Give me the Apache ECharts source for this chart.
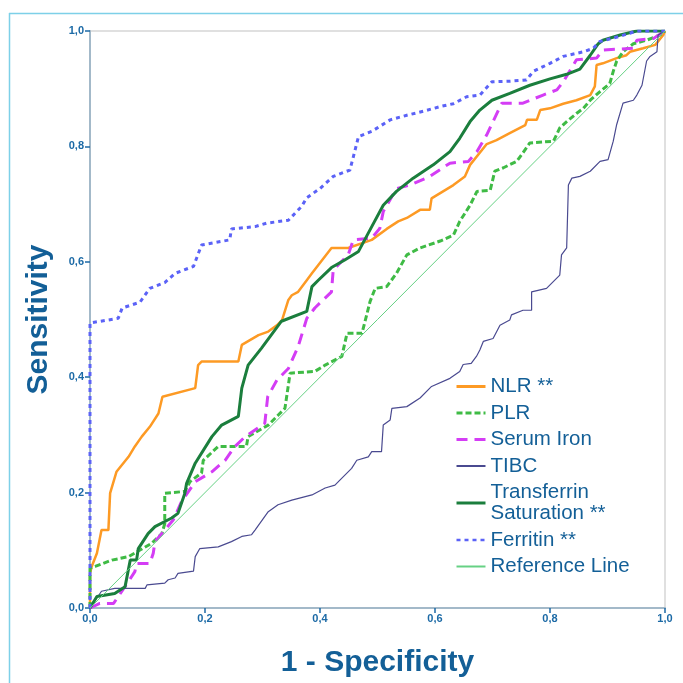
<!DOCTYPE html>
<html>
<head>
<meta charset="utf-8">
<script src="https://cdn.jsdelivr.net/npm/echarts@6/dist/echarts.min.js"></script>
<style>
  html, body { margin: 0; padding: 0; background: #fff; }
  #main { width: 683px; height: 683px; }
</style>
</head>
<body>
<div id="main"></div>
<script>
// ROC curves, [1 - specificity, sensitivity]
var nlr = [[0,0],[0,0.060],[0.003,0.072],[0.012,0.095],[0.020,0.135],[0.032,0.135],[0.035,0.199],[0.046,0.236],[0.067,0.262],[0.078,0.280],[0.090,0.297],[0.104,0.314],[0.119,0.337],[0.126,0.366],[0.183,0.381],[0.188,0.421],[0.194,0.427],[0.258,0.427],[0.264,0.456],[0.293,0.473],[0.310,0.479],[0.325,0.490],[0.334,0.499],[0.345,0.534],[0.351,0.542],[0.362,0.548],[0.377,0.568],[0.386,0.580],[0.420,0.624],[0.449,0.624],[0.490,0.638],[0.516,0.657],[0.536,0.670],[0.551,0.676],[0.574,0.690],[0.591,0.690],[0.594,0.710],[0.632,0.733],[0.652,0.748],[0.661,0.768],[0.690,0.804],[0.707,0.811],[0.730,0.823],[0.757,0.837],[0.760,0.846],[0.777,0.846],[0.783,0.863],[0.800,0.866],[0.823,0.874],[0.846,0.880],[0.870,0.889],[0.878,0.904],[0.881,0.941],[0.892,0.944],[0.916,0.953],[0.933,0.958],[0.939,0.964],[0.962,0.970],[0.983,0.976],[0.997,0.993],[1,1]];

var plr = [[0,0],[0,0.069],[0.009,0.072],[0.038,0.083],[0.067,0.089],[0.107,0.112],[0.125,0.129],[0.130,0.146],[0.130,0.199],[0.165,0.202],[0.174,0.219],[0.194,0.234],[0.197,0.256],[0.223,0.280],[0.272,0.280],[0.275,0.297],[0.310,0.317],[0.327,0.334],[0.339,0.346],[0.342,0.366],[0.348,0.407],[0.391,0.410],[0.409,0.421],[0.438,0.436],[0.447,0.476],[0.473,0.476],[0.482,0.511],[0.487,0.531],[0.496,0.554],[0.516,0.557],[0.533,0.580],[0.551,0.612],[0.574,0.624],[0.609,0.636],[0.632,0.646],[0.643,0.670],[0.661,0.698],[0.673,0.722],[0.696,0.724],[0.704,0.757],[0.719,0.763],[0.742,0.774],[0.753,0.789],[0.765,0.806],[0.806,0.809],[0.817,0.832],[0.829,0.843],[0.846,0.857],[0.858,0.866],[0.870,0.880],[0.887,0.895],[0.904,0.909],[0.910,0.930],[0.916,0.948],[0.927,0.964],[0.945,0.978],[0.968,0.984],[0.991,0.993],[1,1]];

var serumIron = [[0,0],[0.003,0.003],[0.017,0.008],[0.041,0.008],[0.067,0.046],[0.078,0.063],[0.081,0.077],[0.104,0.077],[0.110,0.095],[0.113,0.115],[0.130,0.135],[0.145,0.153],[0.159,0.184],[0.183,0.219],[0.212,0.236],[0.235,0.256],[0.252,0.280],[0.270,0.297],[0.304,0.320],[0.309,0.366],[0.325,0.395],[0.345,0.415],[0.362,0.453],[0.377,0.502],[0.391,0.520],[0.420,0.548],[0.423,0.586],[0.449,0.612],[0.458,0.638],[0.490,0.641],[0.504,0.658],[0.510,0.687],[0.533,0.727],[0.557,0.733],[0.591,0.748],[0.626,0.771],[0.658,0.774],[0.673,0.791],[0.690,0.820],[0.716,0.875],[0.753,0.875],[0.788,0.889],[0.812,0.898],[0.823,0.912],[0.846,0.950],[0.881,0.953],[0.892,0.967],[0.945,0.970],[0.951,0.984],[0.980,0.987],[1,1]];

var tibc = [[0,0],[0.020,0.029],[0.043,0.034],[0.096,0.034],[0.099,0.040],[0.130,0.043],[0.136,0.049],[0.148,0.052],[0.153,0.060],[0.180,0.064],[0.183,0.089],[0.191,0.103],[0.223,0.106],[0.246,0.115],[0.264,0.124],[0.281,0.127],[0.287,0.135],[0.310,0.167],[0.327,0.179],[0.351,0.187],[0.386,0.196],[0.409,0.208],[0.426,0.213],[0.435,0.222],[0.455,0.242],[0.464,0.256],[0.484,0.262],[0.490,0.271],[0.507,0.271],[0.510,0.317],[0.522,0.326],[0.525,0.346],[0.551,0.349],[0.574,0.364],[0.594,0.384],[0.626,0.398],[0.643,0.410],[0.649,0.422],[0.663,0.424],[0.672,0.436],[0.678,0.447],[0.684,0.462],[0.701,0.467],[0.713,0.490],[0.730,0.499],[0.733,0.508],[0.753,0.516],[0.768,0.516],[0.768,0.548],[0.794,0.554],[0.817,0.577],[0.820,0.612],[0.829,0.624],[0.832,0.733],[0.838,0.745],[0.852,0.748],[0.870,0.757],[0.887,0.774],[0.901,0.777],[0.910,0.809],[0.916,0.838],[0.927,0.875],[0.945,0.880],[0.951,0.889],[0.960,0.906],[0.968,0.948],[0.974,0.956],[0.986,0.964],[0.988,0.993],[1,1]];

var transferrin = [[0,0],[0.012,0.020],[0.043,0.025],[0.061,0.037],[0.070,0.083],[0.081,0.083],[0.084,0.103],[0.101,0.129],[0.113,0.141],[0.142,0.156],[0.153,0.164],[0.165,0.199],[0.168,0.216],[0.183,0.251],[0.212,0.297],[0.229,0.317],[0.258,0.332],[0.264,0.381],[0.275,0.421],[0.298,0.450],[0.333,0.497],[0.377,0.514],[0.386,0.557],[0.397,0.568],[0.420,0.590],[0.443,0.603],[0.467,0.618],[0.490,0.661],[0.510,0.698],[0.533,0.722],[0.562,0.745],[0.597,0.768],[0.626,0.791],[0.643,0.814],[0.661,0.843],[0.678,0.863],[0.699,0.880],[0.730,0.892],[0.765,0.906],[0.800,0.917],[0.829,0.925],[0.852,0.934],[0.870,0.958],[0.884,0.978],[0.892,0.984],[0.922,0.993],[0.951,1],[1,1]];

var ferritin = [[0,0],[0,0.494],[0.049,0.502],[0.056,0.520],[0.087,0.530],[0.104,0.554],[0.130,0.564],[0.148,0.580],[0.180,0.592],[0.194,0.629],[0.243,0.638],[0.246,0.657],[0.287,0.661],[0.307,0.667],[0.345,0.672],[0.368,0.696],[0.377,0.711],[0.400,0.727],[0.423,0.748],[0.452,0.759],[0.458,0.782],[0.467,0.817],[0.490,0.826],[0.522,0.846],[0.551,0.854],[0.580,0.861],[0.609,0.869],[0.632,0.874],[0.655,0.886],[0.678,0.889],[0.699,0.912],[0.730,0.913],[0.759,0.915],[0.771,0.930],[0.800,0.944],[0.823,0.956],[0.858,0.964],[0.875,0.970],[0.887,0.982],[0.922,0.991],[0.951,1],[1,1]];

var referenceLine = [[0,0],[1,1]];

var names = ['NLR **', 'PLR', 'Serum Iron', 'TIBC', 'Transferrin\nSaturation **', 'Ferritin **', 'Reference Line'];
var legendWidths = [3, 3, 3, 2, 3, 2.5, 2];

var tickColor = '#1c6aa6';
var textColor = '#135f97';
var font = 'Liberation Sans, Arial, sans-serif';

function fmt(v) {
  return v.toFixed(1).replace('.', ',');
}

function rocSeries(name, data, color, width, type) {
  return {
    name: name,
    type: 'line',
    data: data,
    symbol: 'none',
    animation: false,
    lineStyle: { color: color, width: width, type: type },
    itemStyle: { color: color }
  };
}

var option = {
  backgroundColor: '#fff',
  animation: false,
  grid: {
    left: 90, right: 18, top: 31, bottom: 75,
    outerBoundsMode: 'none',
    show: true,
    borderColor: '#d6d6d6',
    borderWidth: 1.5
  },
  legend: {
    orient: 'vertical',
    left: 450,
    top: 371,
    itemWidth: 29,
    itemHeight: 10,
    itemGap: 5.5,
    data: names.map(function (n, i) {
      return { name: n, lineStyle: { width: legendWidths[i] } };
    }),
    itemStyle: { opacity: 0, borderWidth: 0 },
    textStyle: {
      color: textColor,
      fontSize: 20.5,
      lineHeight: 21,
      fontFamily: font
    }
  },
  xAxis: {
    type: 'value',
    min: 0, max: 1, interval: 0.2,
    name: '1 - Specificity',
    nameLocation: 'middle',
    nameGap: 40,
    nameTextStyle: { color: textColor, fontSize: 30, fontWeight: 'bold', fontFamily: font },
    axisLine: { show: true, lineStyle: { color: '#a3b9c9', width: 2 } },
    axisTick: { show: true, length: 5, lineStyle: { color: tickColor, width: 1.5 } },
    splitLine: { show: false },
    axisLabel: { formatter: fmt, color: tickColor, fontSize: 11, fontWeight: 'bold', margin: 5, fontFamily: font }
  },
  yAxis: {
    type: 'value',
    min: 0, max: 1, interval: 0.2,
    name: 'Sensitivity',
    nameLocation: 'middle',
    nameGap: 36,
    nameRotate: 90,
    nameTextStyle: { color: textColor, fontSize: 30, fontWeight: 'bold', fontFamily: font },
    axisLine: { show: true, lineStyle: { color: '#a3b9c9', width: 2 } },
    axisTick: { show: true, length: 5, lineStyle: { color: tickColor, width: 1.5 } },
    splitLine: { show: false },
    axisLabel: { formatter: fmt, color: tickColor, fontSize: 11, fontWeight: 'bold', margin: 6, fontFamily: font }
  },
  graphic: [
    { type: 'line', shape: { x1: 9, y1: 13.5, x2: 683, y2: 13.5 }, style: { stroke: '#7dd0e8', lineWidth: 1.5 } },
    { type: 'line', shape: { x1: 9.5, y1: 13, x2: 9.5, y2: 683 }, style: { stroke: '#7dd0e8', lineWidth: 1.5 } }
  ],
  series: [
    rocSeries(names[0], nlr, '#fd9a24', 2.5, 'solid'),
    rocSeries(names[1], plr, '#3fbb45', 3, [6, 3]),
    rocSeries(names[2], serumIron, '#d43df5', 3, [11, 7]),
    rocSeries(names[3], tibc, '#4a4a90', 1.2, 'solid'),
    rocSeries(names[4], transferrin, '#1b7e3d', 3, 'solid'),
    rocSeries(names[5], ferritin, '#5b62f7', 3, [4, 4]),
    rocSeries(names[6], referenceLine, '#66d184', 1, 'solid')
  ]
};

var chart = echarts.init(document.getElementById('main'));
chart.setOption(option);
</script>
</body>
</html>
